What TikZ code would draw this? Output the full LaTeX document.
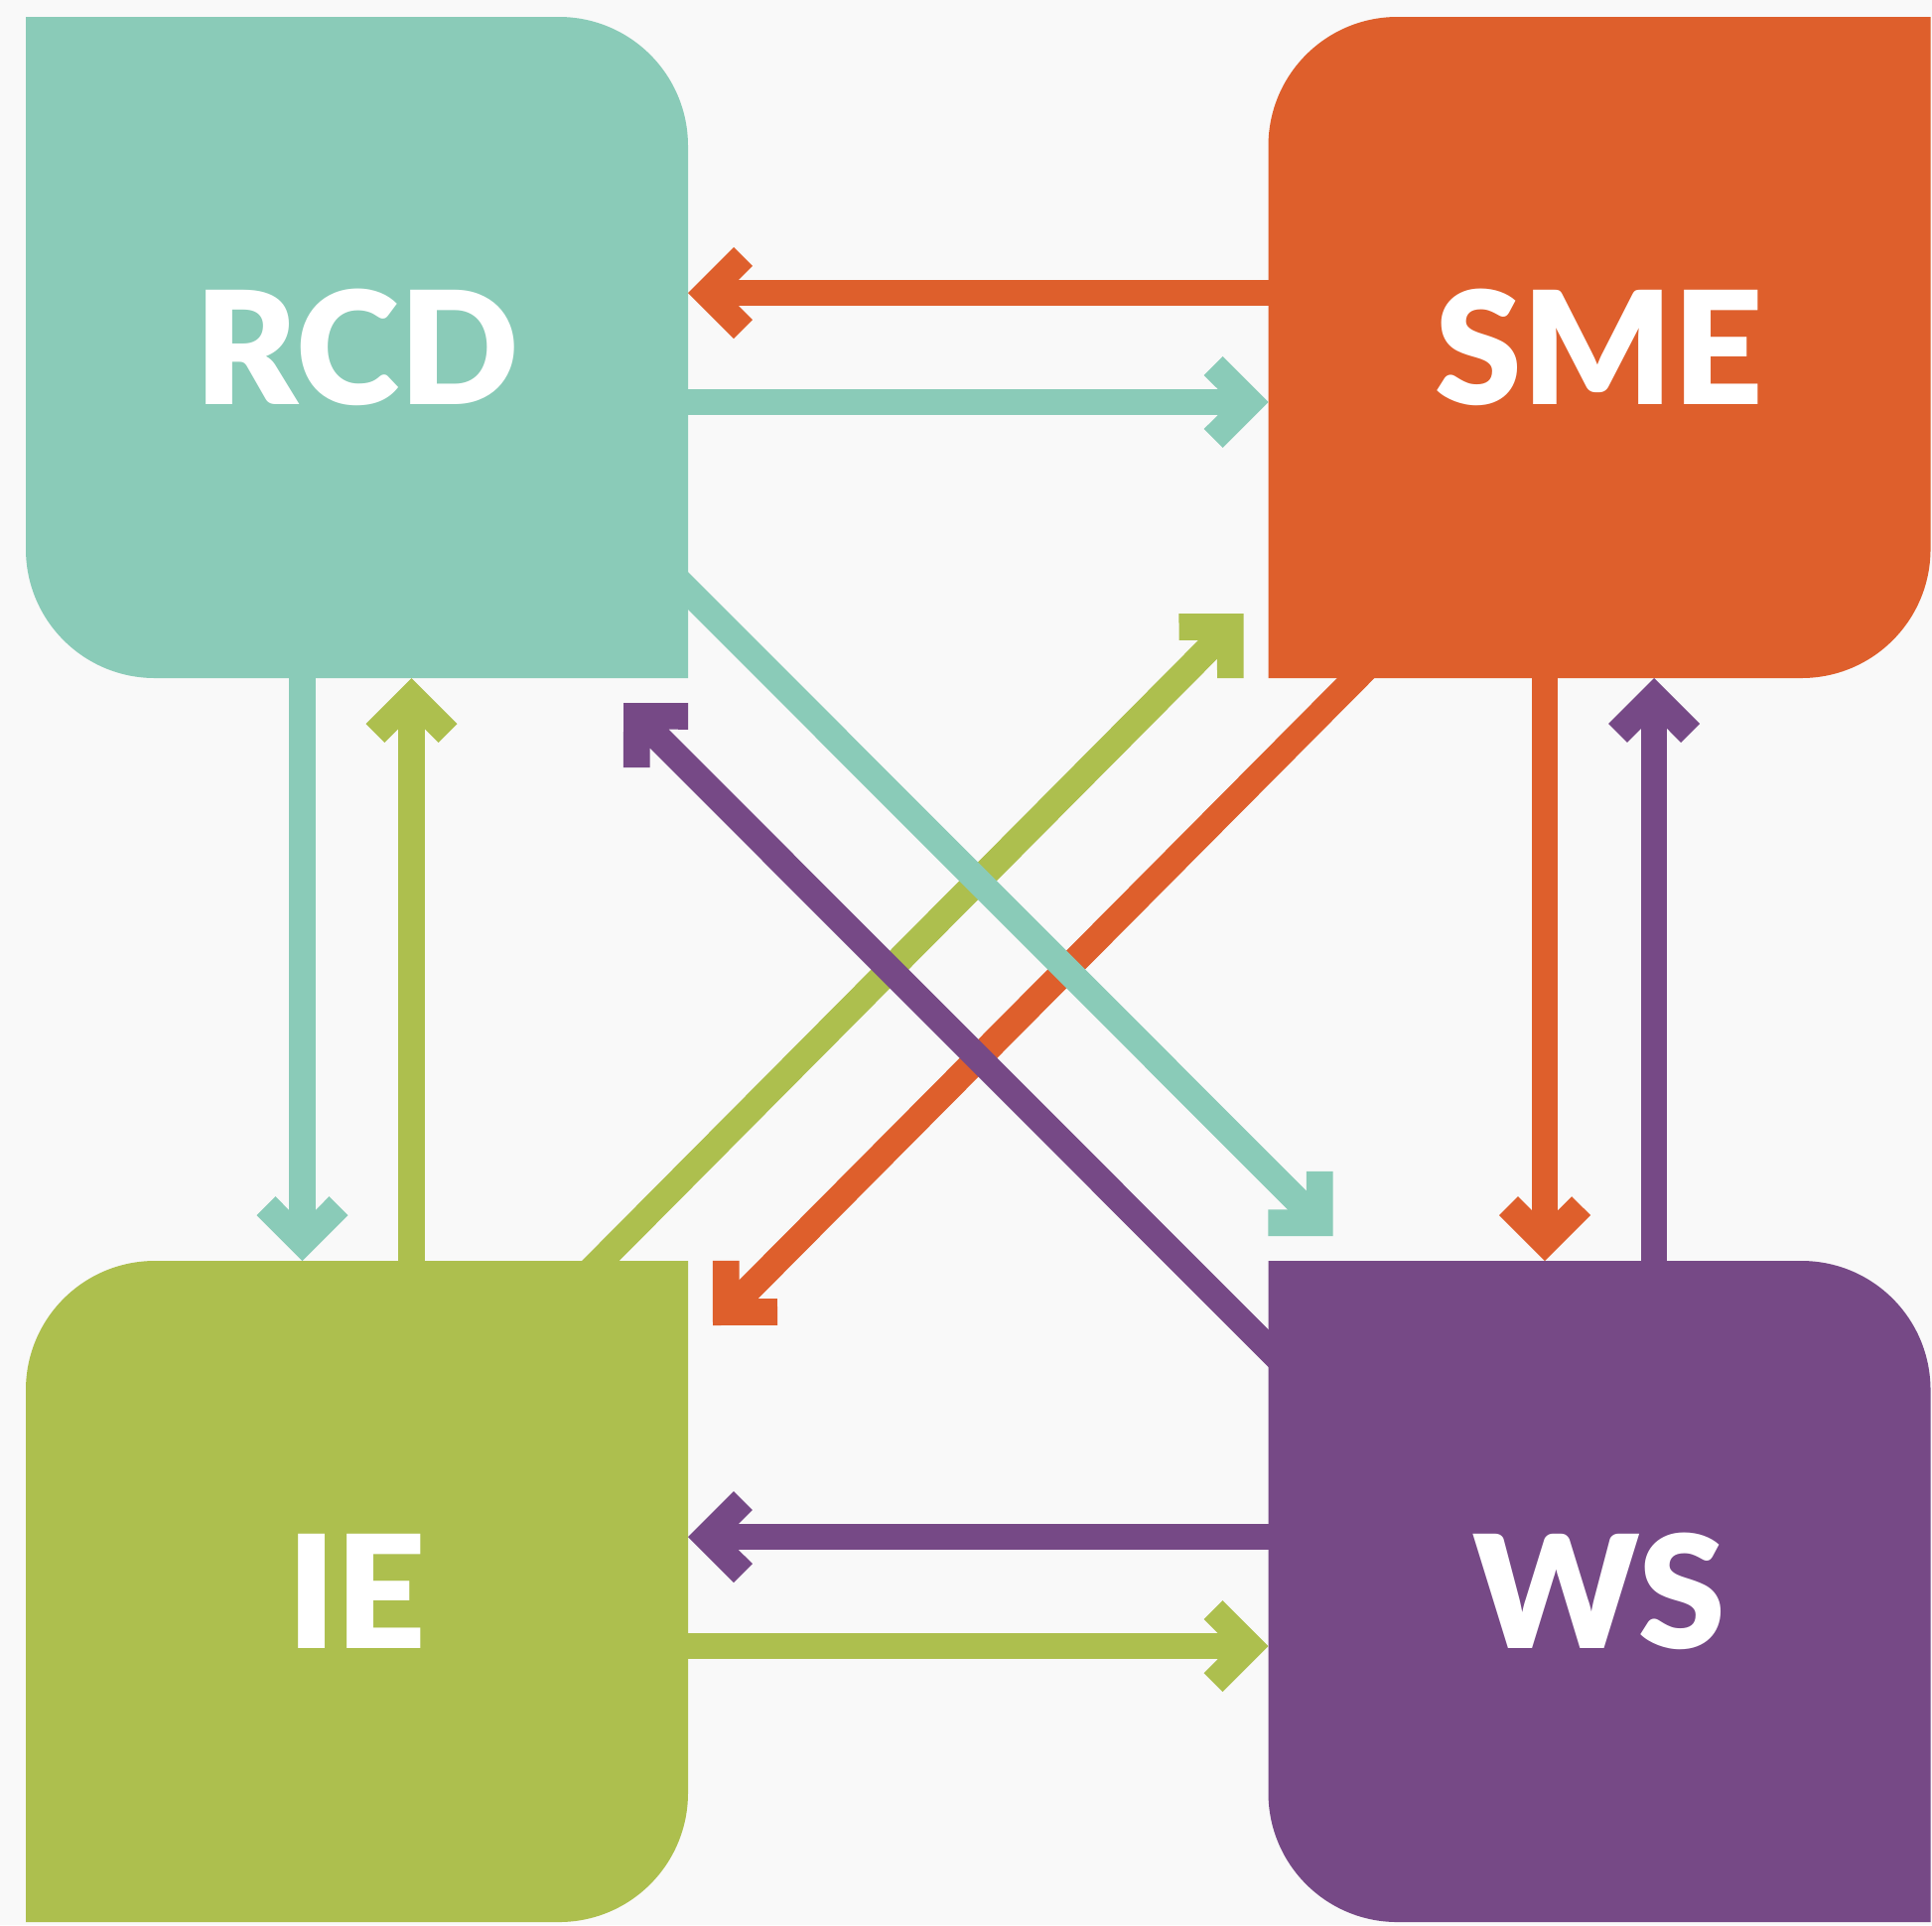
\documentclass[tikz,border=0pt]{standalone}
\usepackage{fontspec}
\setmainfont{Lato}[BoldFont={Lato Black}]
\usetikzlibrary{positioning}

\definecolor{rcdteal}{RGB}{138,203,184}
\definecolor{smeorange}{RGB}{222,95,44}
\definecolor{iegreen}{RGB}{173,191,78}
\definecolor{wspurple}{RGB}{118,73,134}
\definecolor{pagegray}{RGB}{249,249,249}

\pgfdeclarelayer{background}
\pgfsetlayers{background,main}

% open chevron head, made for 0.267cm shafts
\pgfdeclarearrow{
  name = Chev,
  setup code = {
    \pgfarrowssettipend{0pt}
    \pgfarrowssetlineend{-0.49cm}
    \pgfarrowssetbackend{-0.65cm}
    \pgfarrowshullpoint{0pt}{0pt}
    \pgfarrowsupperhullpoint{-0.46cm}{0.46cm}
    \pgfarrowsupperhullpoint{-0.65cm}{0.27cm}
  },
  drawing code = {
    \pgfpathmoveto{\pgfpointorigin}
    \pgfpathlineto{\pgfpoint{-0.46cm}{0.46cm}}
    \pgfpathlineto{\pgfpoint{-0.649cm}{0.271cm}}
    \pgfpathlineto{\pgfpoint{-0.511cm}{0.1335cm}}
    \pgfpathlineto{\pgfpoint{-0.511cm}{-0.1335cm}}
    \pgfpathlineto{\pgfpoint{-0.649cm}{-0.271cm}}
    \pgfpathlineto{\pgfpoint{-0.46cm}{-0.46cm}}
    \pgfpathclose
    \pgfusepathqfill
  }
}

\tikzset{
  box/.style={rectangle,
              minimum width=6.67cm,
              minimum height=6.66cm,
              inner sep=0pt,
              outer sep=0pt,
              text=white,
              font=\bfseries\fontsize{45}{54}\selectfont},
  link/.style={line width=0.267cm, -Chev}
}

\begin{document}
\begin{tikzpicture}
    \useasboundingbox (0,0) rectangle (19.46,-19.39);

    % the four groups
    \node[box] (rcd) at (3.595,-3.50) {RCD};
    \node[box, right=5.845cm of rcd] (sme) {SME};
    \node[box, below=5.87cm of rcd] (ie) {IE};
    \node[box, below=5.87cm of sme] (ws) {WS};

    \begin{pgfonlayer}{background}
        \fill[pagegray] (0,0) rectangle (19.46,-19.39);
        % RCD, WS: top right and bottom left rounded
        \fill[rcdteal] (rcd.north west) -- ([xshift=-1.3cm]rcd.north east)
            arc[start angle=90, end angle=0, radius=1.3cm] -- (rcd.south east)
            -- ([xshift=1.3cm]rcd.south west)
            arc[start angle=270, end angle=180, radius=1.3cm] -- cycle;
        \fill[wspurple] (ws.north west) -- ([xshift=-1.3cm]ws.north east)
            arc[start angle=90, end angle=0, radius=1.3cm] -- (ws.south east)
            -- ([xshift=1.3cm]ws.south west)
            arc[start angle=270, end angle=180, radius=1.3cm] -- cycle;
        % SME, IE: top left and bottom right rounded
        \fill[smeorange] ([xshift=1.3cm]sme.north west) -- (sme.north east)
            -- ([yshift=1.3cm]sme.south east)
            arc[start angle=0, end angle=-90, radius=1.3cm] -- (sme.south west)
            -- ([yshift=-1.3cm]sme.north west)
            arc[start angle=180, end angle=90, radius=1.3cm] -- cycle;
        \fill[iegreen] ([xshift=1.3cm]ie.north west) -- (ie.north east)
            -- ([yshift=1.3cm]ie.south east)
            arc[start angle=0, end angle=-90, radius=1.3cm] -- (ie.south west)
            -- ([yshift=-1.3cm]ie.north west)
            arc[start angle=180, end angle=90, radius=1.3cm] -- cycle;
    \end{pgfonlayer}

    % links along the sides
    \draw[link, smeorange] ([yshift=0.55cm]sme.west) -- ([yshift=0.55cm]rcd.east);
    \draw[link, rcdteal] ([yshift=-0.55cm]rcd.east) -- ([yshift=-0.55cm]sme.west);
    \draw[link, wspurple] ([yshift=0.55cm]ws.west) -- ([yshift=0.55cm]ie.east);
    \draw[link, iegreen] ([yshift=-0.55cm]ie.east) -- ([yshift=-0.55cm]ws.west);
    \draw[link, rcdteal] ([xshift=-0.55cm]rcd.south) -- ([xshift=-0.55cm]ie.north);
    \draw[link, iegreen] ([xshift=0.55cm]ie.north) -- ([xshift=0.55cm]rcd.south);
    \draw[link, smeorange] ([xshift=-0.55cm]sme.south) -- ([xshift=-0.55cm]ws.north);
    \draw[link, wspurple] ([xshift=0.55cm]ws.north) -- ([xshift=0.55cm]sme.south);

    % links across
    \draw[link, iegreen] ([shift={(-1.03,-0.15)}]ie.north east) -- ([shift={(-0.25,0.65)}]sme.south west);
    \draw[link, smeorange] ([shift={(1.03,0.15)}]sme.south west) -- ([shift={(0.25,-0.65)}]ie.north east);
    \draw[link, rcdteal] ([shift={(-0.15,1.03)}]rcd.south east) -- ([shift={(0.65,0.25)}]ws.north west);
    \draw[link, wspurple] ([shift={(0.15,-1.03)}]ws.north west) -- ([shift={(-0.65,-0.25)}]rcd.south east);

\end{tikzpicture}
\end{document}
